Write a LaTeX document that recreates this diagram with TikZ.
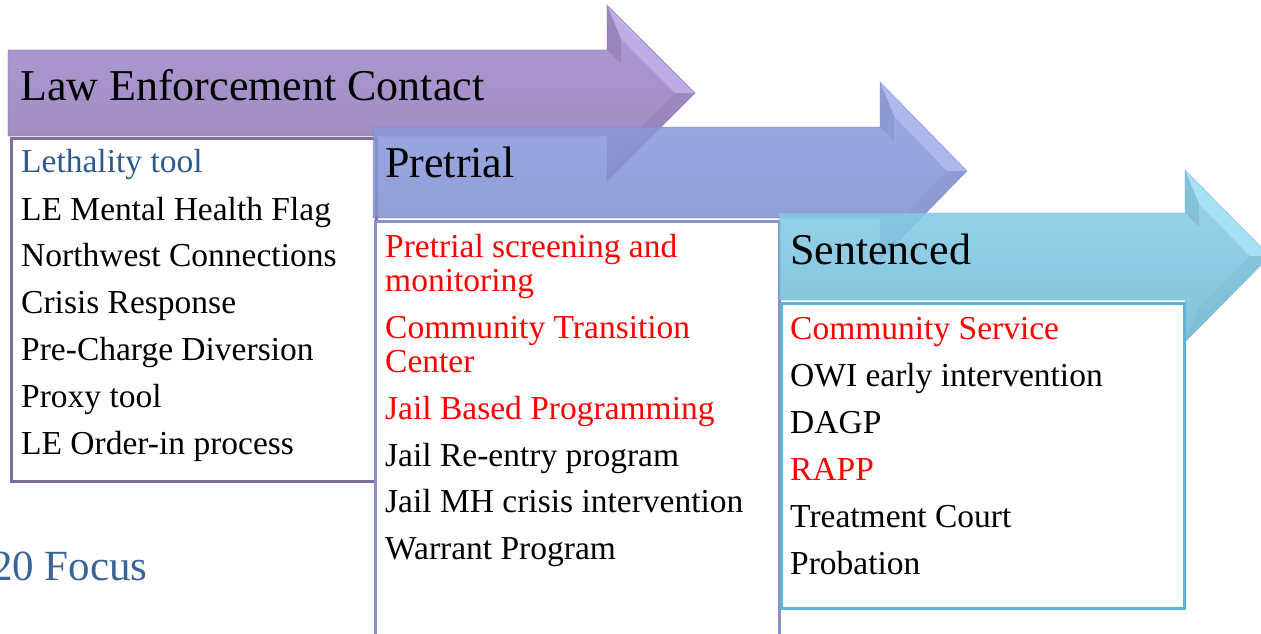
\documentclass[tikz,border=0pt]{standalone}
\usepackage{fontspec}
\setmainfont{Liberation Serif}
\definecolor{aOneTop}{HTML}{B09DD6}
\definecolor{aOneBot}{HTML}{9C86BE}
\definecolor{aOneLt}{HTML}{C4B2EA}
\definecolor{aOneDk}{HTML}{9078B0}
\definecolor{aTwoTop}{HTML}{8E9CDE}
\definecolor{aTwoBot}{HTML}{7C8ACC}
\definecolor{aTwoLt}{HTML}{A6B3F0}
\definecolor{aTwoDk}{HTML}{7180C2}
\definecolor{aThrTop}{HTML}{8AD0EA}
\definecolor{aThrBot}{HTML}{72B8D6}
\definecolor{aThrLt}{HTML}{A2E2F6}
\definecolor{aThrDk}{HTML}{66AACA}
\definecolor{bOne}{HTML}{7E6E9E}
\definecolor{bTwo}{HTML}{8A8ECC}
\definecolor{bThr}{HTML}{5CB4D6}
\definecolor{blueTxt}{HTML}{2E5A92}
\definecolor{focusTxt}{HTML}{3A6399}
\definecolor{redTxt}{HTML}{FF0000}
\begin{document}
\begin{tikzpicture}[x=1pt,y=-1pt,
  hdr/.style={anchor=base west, font=\fontsize{44}{50}\selectfont, inner sep=0pt, text=black},
  itm/.style={anchor=base west, font=\fontsize{33.5}{38}\selectfont, inner sep=0pt, text=black},
  redItm/.style={itm, text=redTxt},
  panel/.style={anchor=north west, fill=white, line width=2.6pt, inner sep=0pt}
]
\useasboundingbox (0,0) rectangle (1261,634);
% ---------- Arrow 1 ----------
\begin{scope}
\shade[top color=aOneTop, bottom color=aOneBot]
  (8,50) -- (607,50) -- (607,5) -- (695,93) -- (607,181) -- (607,136) -- (8,136) -- cycle;
\fill[aOneLt, opacity=0.8] (607,5) -- (695,93) -- (675,93) -- (621,39) -- cycle;
\fill[aOneDk, opacity=0.6] (607,5) -- (621,39) -- (621,64) -- (607,50) -- cycle;
\fill[aOneDk, opacity=0.35] (695,93) -- (607,181) -- (621,147) -- (675,93) -- cycle;
\draw[aOneDk, opacity=0.5, line width=0.8pt]
  (8,50) -- (607,50) -- (607,5) -- (695,93) -- (607,181) -- (607,136) -- (8,136) -- cycle;
\end{scope}
\node[hdr] (h1) at (20,100) {Law Enforcement Contact};
% Box 1
\node[panel, draw=bOne, minimum width=365pt, minimum height=343pt] (b1) at (10,137) {};
\node[itm, text=blueTxt] (i11) at (21,172) {Lethality tool};
\node[itm] (i12) at (21,220) {LE Mental Health Flag};
\node[itm] (i13) at (21,266) {Northwest Connections};
\node[itm] (i14) at (21,313) {Crisis Response};
\node[itm] (i15) at (21,360) {Pre-Charge Diversion};
\node[itm] (i16) at (21,407) {Proxy tool};
\node[itm] (i17) at (21,454) {LE Order-in process};
% ---------- Arrow 2 ----------
\begin{scope}[transparency group, opacity=0.86]
\shade[top color=aTwoTop, bottom color=aTwoBot]
  (373,127) -- (880,127) -- (880,82) -- (967,171) -- (880,260) -- (880,218) -- (373,218) -- cycle;
\fill[aTwoLt, opacity=0.8] (880,82) -- (967,171) -- (947,171) -- (894,116) -- cycle;
\fill[aTwoDk, opacity=0.6] (880,82) -- (894,116) -- (894,141) -- (880,127) -- cycle;
\fill[aTwoDk, opacity=0.35] (967,171) -- (880,260) -- (894,226) -- (947,171) -- cycle;
\draw[aTwoDk, opacity=0.5, line width=0.8pt]
  (373,127) -- (880,127) -- (880,82) -- (967,171) -- (880,260) -- (880,218) -- (373,218) -- cycle;
\end{scope}
\node[hdr] (h2) at (385,177) {Pretrial};
% Box 2
\node[panel, draw=bTwo, minimum width=404pt, minimum height=420pt] (b2) at (374,220) {};
\node[redItm] (i21) at (385,257) {Pretrial screening and};
\node[redItm] (i22) at (385,291) {monitoring};
\node[redItm] (i23) at (385,338) {Community Transition};
\node[redItm] (i24) at (385,372) {Center};
\node[redItm] (i25) at (385,419) {Jail Based Programming};
\node[itm] (i26) at (385,466) {Jail Re-entry program};
\node[itm] (i27) at (385,512) {Jail MH crisis intervention};
\node[itm] (i28) at (385,559) {Warrant Program};
% ---------- Arrow 3 ----------
\begin{scope}[transparency group, opacity=0.88]
\shade[top color=aThrTop, bottom color=aThrBot]
  (779,213) -- (1185,213) -- (1185,170) -- (1270,256) -- (1185,342) -- (1185,300) -- (779,300) -- cycle;
\fill[aThrLt, opacity=0.8] (1185,170) -- (1270,256) -- (1250,256) -- (1199,204) -- cycle;
\fill[aThrDk, opacity=0.6] (1185,170) -- (1199,204) -- (1199,227) -- (1185,213) -- cycle;
\fill[aThrDk, opacity=0.35] (1270,256) -- (1185,342) -- (1199,308) -- (1250,256) -- cycle;
\draw[aThrDk, opacity=0.5, line width=0.8pt]
  (779,213) -- (1185,213) -- (1185,170) -- (1270,256) -- (1185,342) -- (1185,300) -- (779,300) -- cycle;
\end{scope}
\node[hdr] (h3) at (790,264) {Sentenced};
% Box 3
\node[panel, draw=bThr, minimum width=403pt, minimum height=305pt] (b3) at (780,302) {};
\node[redItm] (i31) at (790,339) {Community Service};
\node[itm] (i32) at (790,386) {OWI early intervention};
\node[itm] (i33) at (790,433) {DAGP};
\node[redItm] (i34) at (790,480) {RAPP};
\node[itm] (i35) at (790,527) {Treatment Court};
\node[itm] (i36) at (790,574) {Probation};
% Focus label
\node[anchor=base west, inner sep=0pt, font=\fontsize{43}{46}\selectfont, text=focusTxt] (focus) at (-9,580) {20 Focus};
\end{tikzpicture}
\end{document}
